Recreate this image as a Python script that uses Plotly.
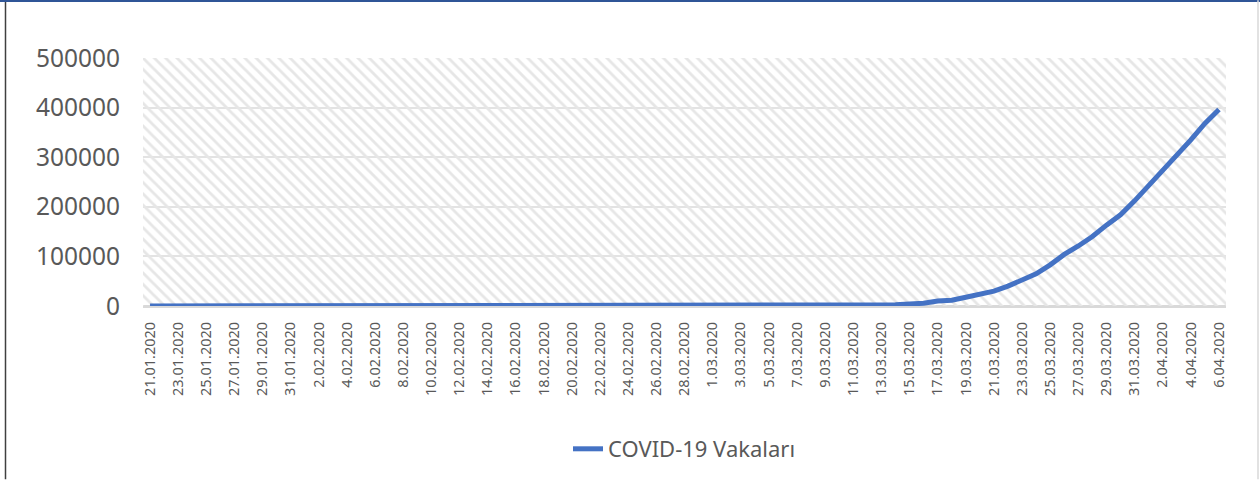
import datetime as dt
import plotly.graph_objects as go

# ---- data ----
start = dt.date(2020, 1, 21)
DATES = [(start + dt.timedelta(days=k)) for k in range(77)]
DATE_LABELS = [f"{d.day}.{d.month:02d}.{d.year}" for d in DATES]
TICK_LABELS = DATE_LABELS[::2]

CASES = [0] * 52 + [
    1500, 2500, 4000, 5500, 10000, 11500, 17500, 23000, 30000, 40000,
    52000, 65000, 83000, 104000, 121000, 140000, 163000, 184000, 212000,
    242000, 275000, 305000, 335000, 368000, 396000,
]
SERIES_NAME = "COVID-19 Vakaları"
Y_TICKS = [0, 100000, 200000, 300000, 400000, 500000]
Y_MAX = 500000

FONT = "Noto Sans"
TXT = "#595959"

fig = go.Figure()

# hatched plot-area background (drawn as bars spanning the axis range)
fig.add_trace(go.Bar(
    x=DATE_LABELS, y=[Y_MAX] * len(DATE_LABELS), width=1,
    marker=dict(color="rgba(0,0,0,0)", line=dict(width=0),
                pattern=dict(shape="\\", size=8, solidity=0.35,
                             fgcolor="#e6e6e6", fgopacity=1)),
    showlegend=False, hoverinfo="skip",
))

fig.add_trace(go.Scatter(
    x=DATE_LABELS, y=CASES, mode="lines", name=SERIES_NAME,
    line=dict(color="#4472C4", width=5),
))

W, H = 1260, 481
L, R, T, B = 143, 34, 58, 174
pw, ph = W - L - R, H - T - B

def px_x(x):
    return (x - L) / pw

def px_y(y):
    return (H - B - y) / ph

fig.update_layout(
    width=W, height=H,
    margin=dict(l=L, r=R, t=T, b=B),
    paper_bgcolor="white", plot_bgcolor="white",
    bargap=0,
    font=dict(family=FONT, color=TXT),
    showlegend=True,
    legend=dict(orientation="h", x=0.5, xanchor="center",
                y=px_y(449), yanchor="middle",
                font=dict(size=22, color=TXT, family=FONT)),
    xaxis=dict(
        type="category", range=[-0.5, len(DATE_LABELS) - 0.5],
        tickmode="array", tickvals=TICK_LABELS, ticktext=TICK_LABELS,
        tickangle=-90, tickfont=dict(size=14.5, color=TXT, family=FONT),
        showgrid=False, showline=False, ticks="", zeroline=False,
        ticklabelstandoff=12,
    ),
    yaxis=dict(
        range=[0, Y_MAX], tickvals=Y_TICKS,
        tickformat="d",
        tickfont=dict(size=24.5, color=TXT, family=FONT),
        showgrid=True, gridcolor="#e3e3e3", gridwidth=2,
        zeroline=True, zerolinecolor="#d9d9d9", zerolinewidth=2.5,
        showline=False, ticks="", ticklabelstandoff=22,
    ),
    shapes=[
        dict(type="line", xref="paper", yref="paper",
             x0=px_x(5.5), x1=px_x(5.5), y0=px_y(0), y1=px_y(481),
             line=dict(color="#404040", width=1.5)),
        dict(type="line", xref="paper", yref="paper",
             x0=px_x(0), x1=px_x(1260), y0=px_y(0.7), y1=px_y(0.7),
             line=dict(color="#2F5597", width=2)),
        dict(type="line", xref="paper", yref="paper",
             x0=px_x(1258), x1=px_x(1258), y0=px_y(0), y1=px_y(481),
             line=dict(color="#d9d9d9", width=1.5)),
    ],
)

fig.write_html("out.html",
               config={"displayModeBar": False},
               post_script="document.body.style.margin='0';"
                           "document.body.style.overflow='hidden';")
